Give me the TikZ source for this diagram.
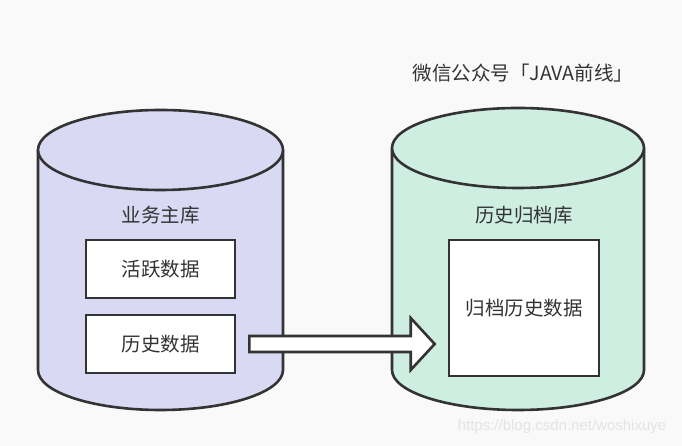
\documentclass[tikz,border=0pt]{standalone}
\usepackage{fontspec}
\newfontfamily\cjk{Noto Sans CJK SC}
\usetikzlibrary{calc}
\definecolor{bg}{HTML}{F9F9F9}
\definecolor{ink}{HTML}{333333}
\definecolor{lav}{HTML}{DAD9F4}
\definecolor{mint}{HTML}{CEEEE2}
\definecolor{wm}{HTML}{E4E4E4}
\tikzset{
  outline/.style={draw=ink, line width=2.6pt},
  databox/.style={outline, fill=white, minimum width=149pt, minimum height=58pt, inner sep=0pt, font=\cjk\fontsize{19.5pt}{22pt}\selectfont, text=ink},
  lbl/.style={font=\cjk\fontsize{19.5pt}{22pt}\selectfont, text=ink},
}
\begin{document}
\begin{tikzpicture}[x=1pt,y=1pt]
\fill[bg] (0,0) rectangle (682,446);
\useasboundingbox (0,0) rectangle (682,446);
% left cylinder
\filldraw[outline, fill=lav] (38,296) -- (38,76) arc[start angle=180, end angle=360, x radius=122.5pt, y radius=40pt] -- (283,296);
\filldraw[outline, fill=lav] (160.5,296) ellipse[x radius=122.5pt, y radius=40pt];
% right cylinder
\filldraw[outline, fill=mint] (392,298) -- (392,76) arc[start angle=180, end angle=360, x radius=126pt, y radius=40pt] -- (644,298);
\filldraw[outline, fill=mint] (518,298) ellipse[x radius=126pt, y radius=40pt];
% labels
\node[lbl] (mainlbl) at (160.5,231) {业务主库};
\node[lbl] (archlbl) at (524,231) {历史归档库};
\node[lbl] (title) at (523,373) {微信公众号「JAVA前线」};
% boxes
\node[databox] (active) at (160.5,177) {活跃数据};
\node[databox] (hist) at (160.5,102) {历史数据};
\node[databox, minimum width=150pt, minimum height=136pt] (archive) at (524,138) {归档历史数据};
% block arrow
\coordinate (as) at ($(hist.east)+(13pt,0)$);
\coordinate (at) at ($(archive.west)+(-13pt,-36pt)$);
\filldraw[outline, fill=white, line join=miter]
  ($(as)+(0,8)$) -- ($(at)+(-24,8)$) -- ($(at)+(-24,26)$) -- (at)
  -- ($(at)+(-24,-26)$) -- ($(at)+(-24,-8)$) -- ($(as)+(0,-8)$) -- cycle;
% watermark
\node[font=\fontspec{Liberation Sans}\fontsize{15pt}{18pt}\selectfont, text=wm] (wmark) at (562,19) {https://blog.csdn.net/woshixuye};
\end{tikzpicture}
\end{document}
